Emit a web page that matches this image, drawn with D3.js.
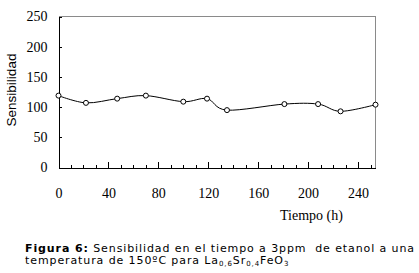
<!DOCTYPE html>
<html>
<head>
<meta charset="utf-8">
<script src="https://cdn.jsdelivr.net/npm/d3@7"></script>
<style>
body { margin:0; background:#fff; }
svg { display:block; }
.axis path, .axis line { stroke:#000; shape-rendering:crispEdges; }
.axis text { font-family:"Liberation Serif", serif; font-size:14px; fill:#000; }
</style>
</head>
<body>
<script>
// hours vs sensitivity
var hours = [0, 22, 47, 70, 100, 119, 135, 181, 208, 226, 254];
var sensib = [119, 107, 114, 119, 109, 114, 95, 105, 105, 93, 104];
var xTicks = [0, 40, 80, 120, 160, 200, 240];
var yTicks = [0, 50, 100, 150, 200, 250];

var width = 419, height = 273;
var margin = {left:58, top:16, right:44, bottom:106};
var w = width - margin.left - margin.right;   // 317
var h = height - margin.top - margin.bottom;  // 151

var svg = d3.select("body").append("svg").attr("width", width).attr("height", height);

var x = d3.scaleLinear().domain([0, 254]).range([0, w]);
var y = d3.scaleLinear().domain([0, 250]).range([h, 0]);

var g = svg.append("g").attr("transform", "translate(" + (margin.left + 0.5) + "," + (margin.top + 0.5) + ")");

// grey frame on top and right
g.append("path")
    .attr("d", "M0,0H" + w + "V" + h)
    .attr("fill", "none").attr("stroke", "#8a8a8a").attr("shape-rendering", "crispEdges");

// minor ticks every 10 h
g.append("g").attr("class", "axis")
    .attr("transform", "translate(0," + h + ")")
    .call(d3.axisBottom(x).tickValues(d3.range(0, 254, 10)).tickSize(-3).tickSizeOuter(0).tickFormat(""));

g.append("g").attr("class", "axis x")
    .attr("transform", "translate(0," + h + ")")
    .call(d3.axisBottom(x).tickValues(xTicks).tickSize(-6).tickSizeOuter(0).tickPadding(21));

g.append("g").attr("class", "axis y")
    .call(d3.axisLeft(y).tickValues(yTicks).tickSize(-3).tickSizeOuter(0).tickPadding(11));

var line = d3.line()
    .x(function(d, i){ return x(hours[i]); })
    .y(function(d){ return y(d); })
    .curve(d3.curveCardinal.tension(0));

g.append("path").attr("d", line(sensib))
    .attr("fill", "none").attr("stroke", "#000").attr("stroke-width", 1);

g.selectAll("circle.pt").data(sensib).enter().append("circle")
    .attr("class", "pt")
    .attr("cx", function(d, i){ return x(hours[i]); })
    .attr("cy", function(d){ return y(d); })
    .attr("r", 2.5)
    .attr("fill", "#fff").attr("stroke", "#000").attr("stroke-width", 1);

// axis titles
svg.append("text")
    .attr("transform", "translate(16,90) rotate(-90)")
    .attr("text-anchor", "middle")
    .style("font-family", "'Liberation Sans', Arial, sans-serif").style("font-size", "13.5px")
    .text("Sensibilidad");

svg.append("text")
    .attr("x", 280).attr("y", 220)
    .style("font-family", "'Liberation Serif', serif").style("font-size", "14px")
    .text("Tiempo (h)");

// caption
var cap = svg.append("g")
    .style("font-family", "'DejaVu Sans', Verdana, sans-serif").style("font-size", "11px")
    .style("letter-spacing", "0.9px");
var l1 = cap.append("text").attr("x", 25).attr("y", 252).attr("xml:space", "preserve");
l1.append("tspan").style("font-weight", "bold").text("Figura 6:");
l1.append("tspan").text(" Sensibilidad en el tiempo a 3ppm  de etanol a una");
var l2 = cap.append("text").attr("x", 25).attr("y", 264);
l2.append("tspan").text("temperatura de 150ºC para La");
l2.append("tspan").attr("dy", 1.5).style("font-size", "7px").text("0,6");
l2.append("tspan").attr("dy", -1.5).text("Sr");
l2.append("tspan").attr("dy", 1.5).style("font-size", "7px").text("0,4");
l2.append("tspan").attr("dy", -1.5).text("FeO");
l2.append("tspan").attr("dy", 1.5).style("font-size", "7px").text("3");
</script>
</body>
</html>
